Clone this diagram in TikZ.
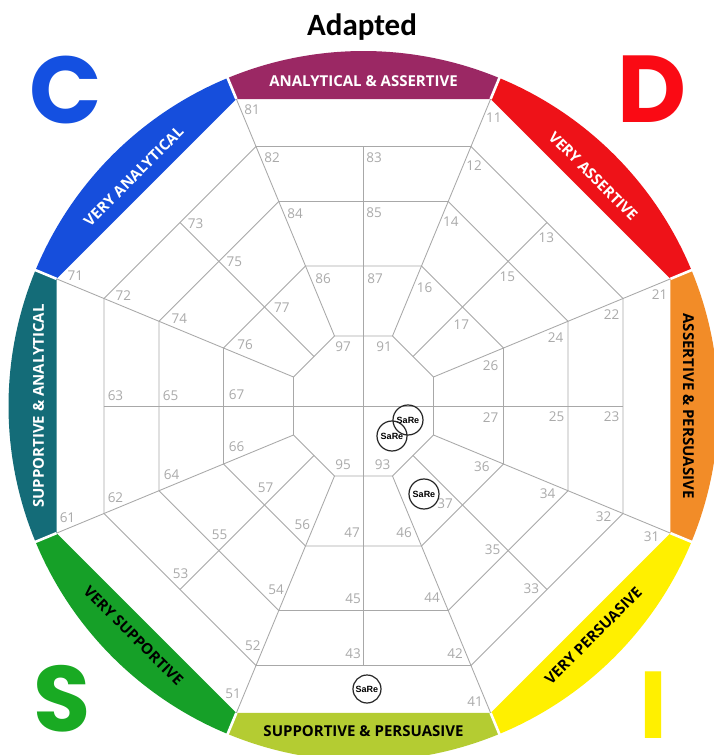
\documentclass[tikz,border=0pt]{standalone}
\usepackage{fontspec}
\setmainfont{Open Sans}
\newfontfamily\poppinsfont{Poppins}
\newfontfamily\titlefont{Carlito}
\newfontfamily\sarefont{Liberation Sans}
\definecolor{cPurple}{RGB}{155,40,100}
\definecolor{cRed}{RGB}{238,18,24}
\definecolor{cOrange}{RGB}{242,140,40}
\definecolor{cYellow}{RGB}{255,240,0}
\definecolor{cLime}{RGB}{180,204,50}
\definecolor{cGreen}{RGB}{22,160,40}
\definecolor{cTeal}{RGB}{20,108,120}
\definecolor{cBlue}{RGB}{22,78,220}
\definecolor{gridc}{RGB}{168,168,168}
\definecolor{numc}{RGB}{170,170,170}
\definecolor{letC}{RGB}{20,80,225}
\definecolor{letD}{RGB}{250,10,20}
\definecolor{letS}{RGB}{25,170,35}
\definecolor{letI}{RGB}{255,240,0}
\begin{document}
\begin{tikzpicture}[x=1pt,y=1pt,
  gridline/.style={draw=gridc, line width=0.85pt},
  bandtext/.style={inner sep=0pt, font=\bfseries\fontsize{15}{15}\selectfont},
  num/.style={inner sep=0pt, text=numc, font=\fontsize{13.5}{13.5}\selectfont},
  sare/.style={circle, draw=black!85, line width=1.2pt, minimum size=30pt, inner sep=0pt,
    font=\sarefont\bfseries\fontsize{9}{9}\selectfont},
  bigletter/.style={inner sep=0pt, anchor=base, font=\poppinsfont\bfseries\fontsize{95}{95}\selectfont}]
\useasboundingbox (-363.5,-349) rectangle (350.5,406);
\fill[white] (-363.5,-349) rectangle (350.5,406);
\def\Ro{332.29}
\def\Rc{355}
\def\Rg{362}
% grid rings
\foreach \R in {280.88,221.35,151.54,75.77}{
  \draw[gridline] (22.5:\R) foreach \k in {1,...,7}{ -- (22.5+45*\k:\R)} -- cycle;
}
% radial lines between sectors
\foreach \k in {0,...,7}{
  \draw[gridline] (22.5+45*\k:75.77) -- (22.5+45*\k:\Ro);
}
% mid lines of sectors
\foreach \k in {1,3,5,7}{
  \draw[gridline] (45*\k:70) -- (45*\k:259.5);
}
\draw[gridline] (-259.5,0) -- (259.5,0);
\draw[gridline] (0,-259.5) -- (0,259.5);
% coloured bands
\foreach \p/\c in {90/cPurple,45/cRed,0/cOrange,-45/cYellow,-90/cLime,-135/cGreen,180/cTeal,135/cBlue}{
  \fill[\c] (\p+22.5:\Ro) -- (\p-22.5:\Ro) -- (\p-22.5:\Rc) arc[start angle=\p-22.5, end angle=\p+22.5, radius=\Rc] -- cycle;
}
\foreach \k in {0,...,7}{
  \draw[white, line width=2.6pt] (22.5+45*\k:\Ro) -- (22.5+45*\k:\Rg);
}
% band texts
\foreach \p/\tc/\r/\t [count=\i] in {90/white/0/ANALYTICAL \& ASSERTIVE,
  45/white/-45/VERY ASSERTIVE,
  0/black/-90/ASSERTIVE \& PERSUASIVE,
  -45/black/45/VERY PERSUASIVE,
  -90/black/0/SUPPORTIVE \& PERSUASIVE,
  -135/black/-45/VERY SUPPORTIVE,
  180/white/90/SUPPORTIVE \& ANALYTICAL,
  135/white/45/VERY ANALYTICAL}{
  \node[bandtext, text=\tc, rotate=\r] (band\i) at (\p:325) {\t};
}
% cell numbers
\foreach \s/\rot in {8/0,1/-45,2/-90,3/-135,4/-180,5/-225,6/-270,7/-315}{
  \begin{scope}[rotate=\rot]
    \node[num] (n\s1) at (-111.5,296) {\s1};
    \node[num] (n\s2) at (-91.5,248) {\s2};
    \node[num] (n\s3) at (10.5,248) {\s3};
    \node[num] (n\s4) at (-68.5,192) {\s4};
    \node[num] (n\s5) at (10.5,193) {\s5};
    \node[num] (n\s6) at (-40.5,127) {\s6};
    \node[num] (n\s7) at (11.5,127) {\s7};
  \end{scope}
}
\node[num] (n97) at (-20.5,59) {97};
\node[num] (n91) at (20.5,59) {91};
\node[num] (n93) at (19,-59) {93};
\node[num] (n95) at (-20.5,-58.5) {95};
% SaRe markers
\node[sare] (sare1) at (44.5,-14) {SaRe};
\node[sare] (sare2) at (28.5,-30) {SaRe};
\node[sare] (sare3) at (60.5,-88) {SaRe};
\node[sare, minimum size=28pt] (sare4) at (3.5,-283) {SaRe};
% title
\node[inner sep=0pt, anchor=base, font=\titlefont\bfseries\fontsize{31}{31}\selectfont] (title) at (-1.5,370) {Adapted};
% corner letters
\node[bigletter, text=letC] (letterC) at (-298,282) {C};
\node[bigletter, text=letD] (letterD) at (289,283) {D};
\node[bigletter, text=letS, font=\poppinsfont\bfseries\fontsize{93}{93}\selectfont] (letterS) at (-301,-325) {S};
\node[bigletter, text=letI] (letterI) at (290.5,-332) {I};
\end{tikzpicture}
\end{document}
